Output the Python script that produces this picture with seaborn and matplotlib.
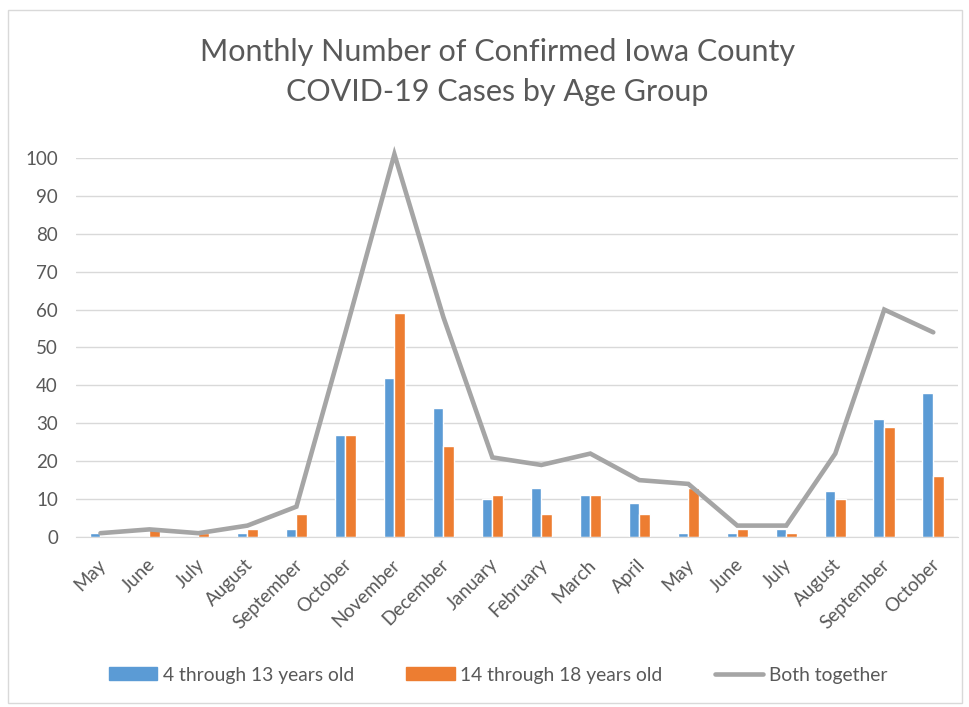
import pandas as pd
import matplotlib
matplotlib.use('Agg')
import matplotlib.pyplot as plt
import matplotlib.transforms as mtransforms
import seaborn as sns
from matplotlib.patches import Patch, Rectangle
from matplotlib.lines import Line2D

months = ['May', 'June', 'July', 'August', 'September', 'October', 'November', 'December',
          'January', 'February', 'March', 'April', 'May', 'June', 'July', 'August',
          'September', 'October']
young = [1, 0, 0, 1, 2, 27, 42, 34, 10, 13, 11, 9, 1, 1, 2, 12, 31, 38]
teens = [0, 2, 1, 2, 6, 27, 59, 24, 11, 6, 11, 6, 13, 2, 1, 10, 29, 16]
together = [1, 2, 1, 3, 8, 54, 101, 58, 21, 19, 22, 15, 14, 3, 3, 22, 60, 54]
series_names = ['4 through 13 years old', '14 through 18 years old', 'Both together']

blue = '#5b9bd5'
orange = '#ed7d31'
grey = '#a5a5a5'
text_grey = '#595959'

# month names repeat, so use an index as the category key
idx = list(range(len(months)))
df = pd.DataFrame({'idx': idx * 2,
                   'cases': young + teens,
                   'group': [series_names[0]] * len(idx) + [series_names[1]] * len(idx)})

sns.set_style('white')
plt.rcParams['font.family'] = ['Lato', 'DejaVu Sans']

fig = plt.figure(figsize=(9.69, 7.07), dpi=100)
ax = fig.add_axes([0.0784, 0.2405, 0.910, 0.536])

sns.barplot(data=df, x='idx', y='cases', hue='group', order=idx,
            palette=[blue, orange], width=0.44, saturation=1, ax=ax, legend=False)
ax.plot(idx, together, color=grey, linewidth=3.3, clip_on=False, zorder=5,
        solid_joinstyle='miter')

ax.set_ylim(0, 100)
ax.set_xlim(-0.5, len(idx) - 0.5)
ax.set_yticks(range(0, 101, 10))
ax.tick_params(axis='y', labelsize=13.5, colors=text_grey, length=0, pad=13)
ax.set_xticks(idx)
ax.set_xticklabels(months, rotation=45, ha='right', va='center', rotation_mode='anchor')
ax.tick_params(axis='x', labelsize=13.5, colors=text_grey, length=0, pad=18)
shift = mtransforms.ScaledTranslation(3 / 100, 0, fig.dpi_scale_trans)
for lab in ax.get_xticklabels():
    lab.set_transform(lab.get_transform() + shift)
ax.set_xlabel('')
ax.set_ylabel('')
ax.yaxis.grid(True, color='#d9d9d9', linewidth=1)
ax.set_axisbelow(True)
for s in ['top', 'right', 'left']:
    ax.spines[s].set_visible(False)
ax.spines['bottom'].set_color('#d9d9d9')

fig.text(0.513, 0.898, 'Monthly Number of Confirmed Iowa County\nCOVID-19 Cases by Age Group',
         ha='center', va='center', fontsize=22, color=text_grey, linespacing=1.55)

handles = [Patch(color=blue), Patch(color=orange), Line2D([0], [0], color=grey, linewidth=3.3)]
fig.legend(handles, series_names, loc='center', bbox_to_anchor=(0.514, 0.045), ncol=3,
           frameon=False, fontsize=13.9, labelcolor=text_grey, handlelength=2.5,
           handleheight=0.65, columnspacing=2.7, handletextpad=0.3)

fig.patches.append(Rectangle((0.008, 0.006), 0.985, 0.98, transform=fig.transFigure,
                             fill=False, edgecolor='#d9d9d9', linewidth=1))

fig.savefig('out.png', dpi=100)
